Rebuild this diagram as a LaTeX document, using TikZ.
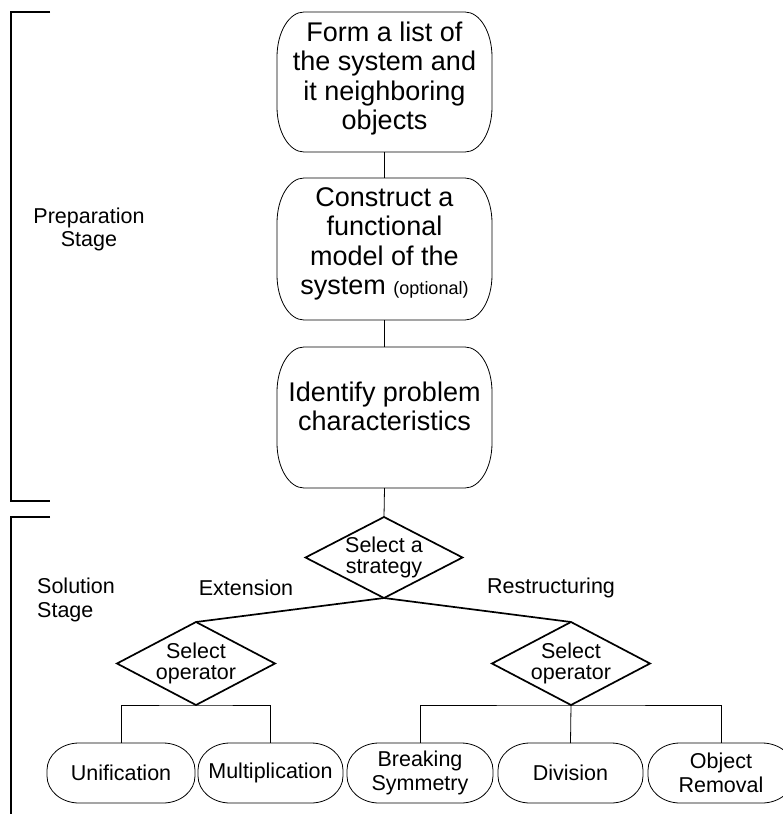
\documentclass[tikz,border=0pt]{standalone}
\usepackage{fontspec}
\setmainfont{Liberation Sans}
\usetikzlibrary{calc}
\tikzset{
  boxline/.style={line width=0.8pt},
  heavy/.style={line width=1.7pt},
  bracket/.style={line width=1.8pt},
  bigtext/.style={font=\fontsize{27}{29.5}\selectfont, align=center, inner sep=0pt},
  smalltext/.style={font=\fontsize{21.5}{23.5}\selectfont, align=center, inner sep=0pt},
  dtext/.style={font=\fontsize{21.5}{20.5}\selectfont, align=center, inner sep=0pt},
  holder/.style={draw=none, inner sep=0pt, outer sep=0pt},
}
\newcommand\ebox[9]{%
  \node[holder, minimum width={(#4-#2)*1pt}, minimum height={(#5-#3)*1pt}] (#1) at ({(#2+#4)/2},{-(#3+#5)/2}) {};
  \draw[boxline] ($(#1.north west)+(#6pt,0pt)$) -- ($(#1.north east)+(-#6pt,0pt)$)
    arc[start angle=90,end angle=0,x radius=#6pt,y radius=#7pt]
    -- ($(#1.south east)+(0pt,#7pt)$)
    arc[start angle=0,end angle=-90,x radius=#6pt,y radius=#7pt]
    -- ($(#1.south west)+(#6pt,0pt)$)
    arc[start angle=270,end angle=180,x radius=#6pt,y radius=#7pt]
    -- ($(#1.north west)+(0pt,-#7pt)$)
    arc[start angle=180,end angle=90,x radius=#6pt,y radius=#7pt] -- cycle;
  \node[#8] (#1-t) at (#1.center) {#9};
}
\newcommand\dmd[6]{% name, cx, cy, w, h, text
  \node[holder, minimum width=#4pt, minimum height=#5pt] (#1) at (#2,-#3) {};
  \draw[heavy] (#1.north) -- (#1.east) -- (#1.south) -- (#1.west) -- cycle;
  \node[dtext] (#1-t) at (#1.center) {#6};
}
\begin{document}
\begin{tikzpicture}[x=1pt,y=1pt]
\useasboundingbox (0,0) rectangle (783,-814);

% brackets
\coordinate (p1) at (50,-12);
\coordinate (p2) at (11,-501);
\coordinate (p3) at (50,-501);
\draw[bracket] (p1) -| (p2) -- (p3);
\coordinate (s1) at (50,-517);
\coordinate (s2) at (11,-816);
\draw[bracket] (s1) -| (s2);

\node[smalltext] (prep) at (89,-229.5) {Preparation\\Stage};
\node[smalltext, align=left, anchor=west] (sol) at (37,-600) {Solution\\Stage};

% top boxes
\ebox{b1}{277}{12}{492}{152}{27}{45}{bigtext, yshift=3.5pt}{Form a list of\\the system and\\it neighboring\\objects}
\ebox{b2}{277}{178}{492}{320}{27}{45}{bigtext, yshift=5pt}{Construct a\\functional\\model of the\\system {\fontsize{18}{20}\selectfont(optional)}}
\ebox{b3}{277}{347}{492}{488}{27}{45}{bigtext, yshift=11pt}{Identify problem\\characteristics}

\draw[boxline] (b1.south) -- (b2.north);
\draw[boxline] (b2.south) -- (b3.north);

% diamonds
\dmd{strat}{384}{557.5}{157}{81}{Select a\\strategy}
\dmd{lop}{196}{663.5}{158}{83}{Select\\operator}
\dmd{rop}{571}{663.5}{158}{83}{Select\\operator}

\draw[boxline] (b3.south) -- (strat.north);
\draw[heavy] (strat.south) -- (lop.north);
\draw[heavy] (strat.south) -- (rop.north);

\node[smalltext] (ext) at (246,-588) {Extension};
\node[smalltext] (res) at (551,-588) {Restructuring};

% bottom boxes
\ebox{uni}{47}{743}{195}{803}{32}{27}{smalltext}{Unification}
\ebox{mul}{198}{743}{343}{803}{32}{27}{smalltext}{Multiplication}
\ebox{brk}{347}{743}{493}{803}{32}{27}{smalltext}{Breaking\\Symmetry}
\ebox{div}{498}{743}{643}{803}{32}{27}{smalltext}{Division}
\ebox{obj}{648}{743}{794}{803}{32}{27}{smalltext}{Object\\Removal}

\draw[boxline] (uni.north) |- (lop.south) -| (mul.north);
\draw[boxline] (brk.north) |- (rop.south) -| (obj.north);
\draw[boxline] (rop.south) -- (div.north);
\end{tikzpicture}
\end{document}
